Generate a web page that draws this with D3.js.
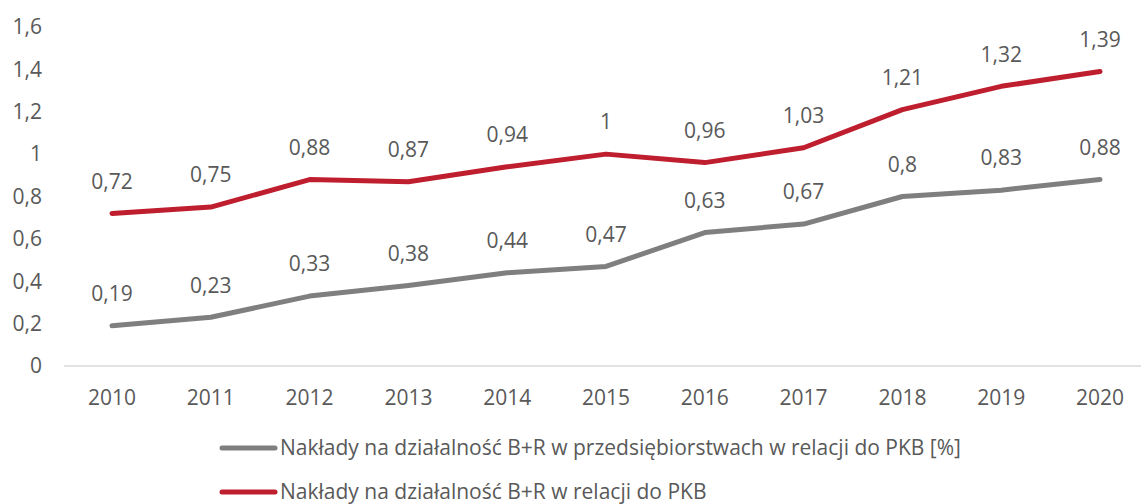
<!DOCTYPE html>
<html><head><meta charset="utf-8">
<script src="https://cdn.jsdelivr.net/npm/d3@7"></script>
<style>body{margin:0;background:#fff}svg{display:block}text{font-family:"Open Sans",Lato,sans-serif;fill:#595959}</style>
</head><body><svg id="c" width="1141" height="504"></svg>
<script>
const years = ["2010","2011","2012","2013","2014","2015","2016","2017","2018","2019","2020"];
const seriesGray = [0.19,0.23,0.33,0.38,0.44,0.47,0.63,0.67,0.8,0.83,0.88];
const seriesRed = [0.72,0.75,0.88,0.87,0.94,1,0.96,1.03,1.21,1.32,1.39];
const yTicks = [0,0.2,0.4,0.6,0.8,1,1.2,1.4,1.6];
const seriesNames = ["Nakłady na działalność B+R w przedsiębiorstwach w relacji do PKB [%]","Nakłady na działalność B+R w relacji do PKB"];
const colors = ["#7f7f7f","#be1e2d"];
const FS = 21;

const svg = d3.select("#c");
const fmt = v => String(v).replace(".", ",");
const x = d3.scalePoint().domain(years).range([112,1100]);
const y = d3.scaleLinear().domain([0,1.6]).range([366,27]);

svg.append("line").attr("x1",64).attr("x2",1141).attr("y1",y(0)).attr("y2",y(0))
  .attr("stroke","#d9d9d9").attr("stroke-width",1.3);

svg.selectAll(".yt").data(yTicks).join("text").attr("class","yt")
  .attr("x",42).attr("y",d=>y(d)).attr("dy","0.35em").attr("text-anchor","end")
  .attr("font-size",FS).text(fmt);

svg.selectAll(".xt").data(years).join("text").attr("class","xt")
  .attr("x",d=>x(d)).attr("y",398).attr("dy","0.35em").attr("text-anchor","middle")
  .attr("font-size",FS).text(d=>d);

const line = d3.line().x((d,i)=>x(years[i])).y(d=>y(d));
[seriesGray, seriesRed].forEach((s,k)=>{
  svg.append("path").datum(s).attr("d",line).attr("fill","none")
    .attr("stroke",colors[k]).attr("stroke-width",5).attr("stroke-linecap","round").attr("stroke-linejoin","round");
  svg.selectAll(".lab"+k).data(s).join("text").attr("class","lab"+k)
    .attr("x",(d,i)=>x(years[i])).attr("y",d=>y(d)-32).attr("dy","0.35em")
    .attr("text-anchor","middle").attr("font-size",FS).text(fmt);
});

const legY = [448,492];
seriesNames.forEach((n,k)=>{
  svg.append("line").attr("x1",222).attr("x2",275).attr("y1",legY[k]).attr("y2",legY[k])
    .attr("stroke",colors[k]).attr("stroke-width",5).attr("stroke-linecap","round");
  svg.append("text").attr("x",280).attr("y",legY[k]).attr("dy","0.35em").attr("font-size",FS).text(n);
});
</script></body></html>
